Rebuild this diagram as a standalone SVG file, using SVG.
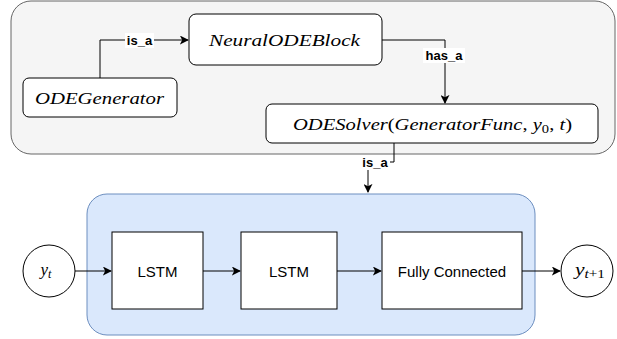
<svg xmlns="http://www.w3.org/2000/svg" width="617" height="339" viewBox="0 0 617 339">
<style>
.box{fill:#fff;stroke:#000;stroke-width:1}
.math{font-family:"Liberation Serif","DejaVu Serif",serif;font-style:italic;font-size:17px;fill:#000}
.up{font-style:normal}
.lbl{font-family:"Liberation Sans",Arial,sans-serif;font-weight:bold;font-size:13px;fill:#000}
.txt{font-family:"Liberation Sans",Arial,sans-serif;font-size:15px;fill:#000}
.edge{fill:none;stroke:#000;stroke-width:1}
</style>
<defs>
<marker id="arr" viewBox="0 0 10 10" refX="9" refY="5" markerWidth="9" markerHeight="9" markerUnits="userSpaceOnUse" orient="auto">
<path d="M0,0 L10,5 L0,10 L2.5,5 Z" fill="#000"/>
</marker>
</defs>
<g id="container-gray"><rect x="11" y="1" width="604" height="153" rx="20" fill="#f5f5f5" stroke="#666" stroke-width="1"/></g>
<g id="container-blue"><rect x="87" y="194" width="448" height="141" rx="20" fill="#dae8fc" stroke="#6c8ebf" stroke-width="1"/></g>
<g id="connectors">
<path class="edge" d="M100,78 V40 H188" marker-end="url(#arr)"/>
<rect x="125" y="33" width="29" height="15" fill="#fff"/>
<text class="lbl" x="139.5" y="45" text-anchor="middle">is_a</text>
<path class="edge" d="M382,40 H445 V103" marker-end="url(#arr)"/>
<rect x="423" y="48" width="42" height="15" fill="#fff"/>
<text class="lbl" x="444" y="60" text-anchor="middle">has_a</text>
<path class="edge" d="M394,143 V162 H368 V192" marker-end="url(#arr)"/>
<rect x="361" y="156" width="29" height="14" fill="#fff"/>
<text class="lbl" x="375" y="167" text-anchor="middle">is_a</text>
<path class="edge" d="M75,271 H111" marker-end="url(#arr)"/>
<path class="edge" d="M203,271 H240" marker-end="url(#arr)"/>
<path class="edge" d="M337,271 H381" marker-end="url(#arr)"/>
<path class="edge" d="M522,271 H560" marker-end="url(#arr)"/>
</g>
<g id="NeuralODEBlock"><rect class="box" x="189" y="14" width="193" height="51" rx="7"/>
<text class="math" x="209" y="46" textLength="151" lengthAdjust="spacingAndGlyphs">NeuralODEBlock</text></g>
<g id="ODEGenerator"><rect class="box" x="23" y="78" width="154" height="39" rx="6"/>
<text class="math" x="35" y="104" textLength="129" lengthAdjust="spacingAndGlyphs">ODEGenerator</text></g>
<g id="ODESolver"><rect class="box" x="266" y="104" width="332" height="39" rx="6"/>
<text class="math" x="293" y="130" textLength="279" lengthAdjust="spacingAndGlyphs">ODESolver<tspan class="up">(</tspan>GeneratorFunc<tspan class="up">, </tspan>y<tspan class="up" font-size="12" dy="3">0</tspan><tspan class="up" dy="-3">, </tspan>t<tspan class="up">)</tspan></text></g>
<g id="yt"><circle cx="49" cy="271" r="26" fill="#fff" stroke="#000"/>
<text class="math" x="46" y="275" text-anchor="middle">y<tspan font-size="12" dy="3">t</tspan></text></g>
<g id="LSTM1"><rect class="box" x="112" y="232" width="91" height="77"/>
<text class="txt" x="157.5" y="277" text-anchor="middle">LSTM</text></g>
<g id="LSTM2"><rect class="box" x="241" y="232" width="96" height="77"/>
<text class="txt" x="289" y="277" text-anchor="middle">LSTM</text></g>
<g id="FC"><rect class="box" x="382" y="232" width="140" height="77"/>
<text class="txt" x="452" y="277" text-anchor="middle">Fully Connected</text></g>
<g id="yt1"><circle cx="587" cy="271" r="26" fill="#fff" stroke="#000"/>
<text class="math" x="575" y="275" textLength="30" lengthAdjust="spacingAndGlyphs">y<tspan font-size="12" dy="3">t<tspan class="up">+1</tspan></tspan></text></g>
</svg>
